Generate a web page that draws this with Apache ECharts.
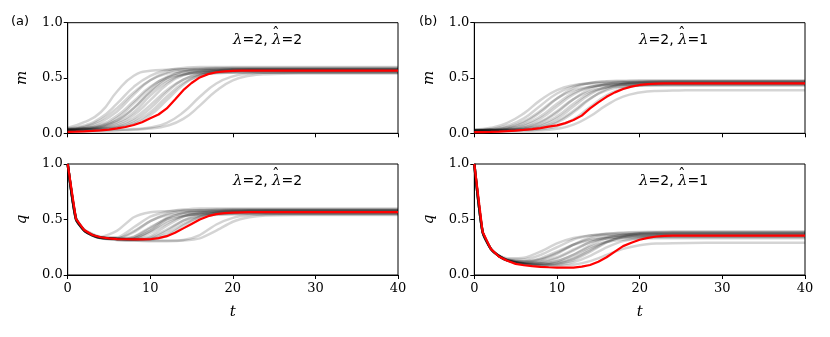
<!DOCTYPE html>
<html>
<head>
<meta charset="utf-8">
<script src="https://cdn.jsdelivr.net/npm/echarts@6/dist/echarts.min.js"></script>
<style>html,body{margin:0;padding:0;background:#fff}#c{width:830px;height:337px}</style>
</head>
<body>
<div id="c"></div>
<script>
// time grids
const tRed = [0,1,2,3,4,5,6,7,8,9,10,11,12,13,14,15,16,17,18,19,20,21,22,23,24,25,40];
const tM = [0,2,4,6,8,10,12,14,16,18,20,22,24,28,40];
const tQ = [0,1,2,3,4,6,8,10,12,14,16,18,20,22,24,28,40];
const xTicks = [0,10,20,30,40];
const yTicks = ['0.0','0.5','1.0'];
const panelLabels = ['(a)','(b)'];
const annotA = ['λ', '=2, ', 'λ', '=2'];
const annotB = ['λ', '=2, ', 'λ', '=1'];

// panel (a) m
const mA_red = [0.013,0.015,0.018,0.022,0.027,0.034,0.044,0.057,0.075,0.1,0.135,0.17,0.225,0.305,0.39,0.455,0.505,0.535,0.552,0.56,0.564,0.566,0.566,0.566,0.566,0.566,0.566];
const mA_gray = [
[0.05,0.10,0.19,0.38,0.52,0.565,0.575,0.58,0.58,0.58,0.58,0.58,0.58,0.58,0.58],
[0.045,0.07,0.14,0.27,0.42,0.52,0.57,0.59,0.60,0.60,0.60,0.60,0.60,0.60,0.60],
[0.04,0.06,0.12,0.23,0.37,0.48,0.54,0.56,0.565,0.57,0.57,0.57,0.57,0.57,0.57],
[0.04,0.055,0.10,0.20,0.35,0.48,0.55,0.58,0.585,0.59,0.59,0.59,0.59,0.59,0.59],
[0.035,0.045,0.08,0.16,0.29,0.42,0.50,0.535,0.545,0.55,0.55,0.55,0.55,0.55,0.55],
[0.035,0.045,0.07,0.14,0.27,0.41,0.51,0.555,0.57,0.575,0.58,0.58,0.58,0.58,0.58],
[0.03,0.04,0.06,0.115,0.225,0.37,0.48,0.53,0.55,0.555,0.56,0.56,0.56,0.56,0.56],
[0.035,0.045,0.065,0.12,0.23,0.38,0.50,0.56,0.58,0.585,0.59,0.59,0.59,0.59,0.59],
[0.03,0.04,0.055,0.10,0.19,0.34,0.46,0.53,0.555,0.565,0.57,0.57,0.57,0.57,0.57],
[0.03,0.035,0.05,0.085,0.165,0.30,0.44,0.525,0.56,0.572,0.578,0.58,0.58,0.58,0.58],
[0.03,0.035,0.045,0.07,0.135,0.255,0.39,0.485,0.53,0.543,0.548,0.55,0.55,0.55,0.55],
[0.03,0.034,0.042,0.06,0.115,0.225,0.37,0.485,0.54,0.56,0.565,0.57,0.57,0.57,0.57],
[0.03,0.033,0.04,0.053,0.097,0.19,0.33,0.455,0.52,0.548,0.555,0.56,0.56,0.56,0.56],
[0.03,0.032,0.036,0.048,0.083,0.165,0.30,0.44,0.525,0.562,0.574,0.578,0.58,0.58,0.58],
[0.02,0.022,0.025,0.03,0.038,0.052,0.095,0.19,0.33,0.45,0.515,0.54,0.548,0.55,0.55],
[0.02,0.022,0.025,0.028,0.033,0.043,0.068,0.13,0.25,0.385,0.478,0.52,0.535,0.54,0.54]
];

// panel (a) q
const qA_red = [1.0,0.505,0.405,0.36,0.34,0.33,0.324,0.322,0.321,0.321,0.322,0.332,0.35,0.38,0.42,0.46,0.50,0.53,0.548,0.557,0.562,0.565,0.566,0.566,0.566,0.566,0.566];
const qA_gray = [
[1,0.52,0.41,0.37,0.345,0.40,0.52,0.565,0.575,0.58,0.58,0.58,0.58,0.58,0.58,0.58,0.58],
[1,0.51,0.405,0.365,0.34,0.34,0.43,0.525,0.57,0.59,0.6,0.6,0.6,0.6,0.6,0.6,0.6],
[1,0.51,0.40,0.36,0.34,0.33,0.395,0.485,0.54,0.56,0.565,0.57,0.57,0.57,0.57,0.57,0.57],
[1,0.5,0.40,0.36,0.335,0.33,0.385,0.485,0.55,0.58,0.585,0.59,0.59,0.59,0.59,0.59,0.59],
[1,0.51,0.405,0.36,0.335,0.325,0.345,0.43,0.505,0.535,0.545,0.55,0.55,0.55,0.55,0.55,0.55],
[1,0.5,0.40,0.355,0.335,0.325,0.34,0.42,0.515,0.555,0.57,0.575,0.58,0.58,0.58,0.58,0.58],
[1,0.51,0.40,0.36,0.335,0.325,0.33,0.395,0.485,0.53,0.55,0.555,0.56,0.56,0.56,0.56,0.56],
[1,0.5,0.40,0.355,0.335,0.325,0.33,0.40,0.505,0.56,0.58,0.585,0.59,0.59,0.59,0.59,0.59],
[1,0.51,0.405,0.36,0.34,0.325,0.325,0.38,0.465,0.53,0.555,0.565,0.57,0.57,0.57,0.57,0.57],
[1,0.5,0.40,0.36,0.335,0.325,0.32,0.35,0.445,0.525,0.56,0.572,0.578,0.58,0.58,0.58,0.58],
[1,0.51,0.405,0.36,0.335,0.325,0.32,0.335,0.41,0.49,0.53,0.543,0.548,0.55,0.55,0.55,0.55],
[1,0.5,0.40,0.355,0.335,0.325,0.32,0.33,0.395,0.49,0.54,0.56,0.565,0.57,0.57,0.57,0.57],
[1,0.51,0.40,0.36,0.335,0.325,0.32,0.325,0.37,0.46,0.52,0.548,0.555,0.56,0.56,0.56,0.56],
[1,0.5,0.40,0.36,0.335,0.325,0.32,0.32,0.35,0.445,0.525,0.562,0.574,0.578,0.58,0.58,0.58],
[1,0.5,0.40,0.355,0.33,0.315,0.31,0.31,0.31,0.315,0.36,0.455,0.515,0.54,0.548,0.55,0.55],
[1,0.51,0.40,0.355,0.33,0.315,0.31,0.305,0.305,0.31,0.33,0.40,0.48,0.52,0.535,0.54,0.54]
];

// panel (b) m
const mB_red = [0.01,0.011,0.013,0.016,0.02,0.025,0.031,0.038,0.047,0.06,0.072,0.092,0.12,0.16,0.225,0.28,0.33,0.37,0.40,0.422,0.437,0.445,0.449,0.451,0.452,0.452,0.452];
const mB_gray = [
[0.035,0.05,0.095,0.18,0.30,0.39,0.435,0.45,0.455,0.46,0.46,0.46,0.46,0.46,0.46],
[0.03,0.04,0.07,0.135,0.25,0.36,0.425,0.455,0.465,0.47,0.47,0.47,0.47,0.47,0.47],
[0.029,0.036,0.057,0.107,0.204,0.315,0.388,0.421,0.434,0.44,0.44,0.44,0.44,0.44,0.44],
[0.028,0.034,0.051,0.097,0.19,0.314,0.408,0.454,0.471,0.476,0.48,0.48,0.48,0.48,0.48],
[0.027,0.031,0.044,0.078,0.153,0.267,0.366,0.418,0.439,0.446,0.45,0.45,0.45,0.45,0.45],
[0.027,0.03,0.04,0.068,0.133,0.243,0.352,0.417,0.445,0.455,0.46,0.46,0.46,0.46,0.46],
[0.026,0.029,0.036,0.056,0.105,0.20,0.309,0.379,0.412,0.424,0.43,0.43,0.43,0.43,0.43],
[0.026,0.028,0.034,0.051,0.096,0.187,0.308,0.399,0.444,0.461,0.466,0.47,0.47,0.47,0.47],
[0.025,0.027,0.031,0.044,0.078,0.153,0.267,0.366,0.418,0.439,0.446,0.45,0.45,0.45,0.45],
[0.025,0.027,0.03,0.04,0.068,0.133,0.243,0.352,0.417,0.445,0.455,0.46,0.46,0.46,0.46],
[0.025,0.026,0.029,0.036,0.057,0.107,0.204,0.315,0.388,0.421,0.434,0.44,0.44,0.44,0.44],
[0.025,0.026,0.028,0.034,0.051,0.097,0.19,0.31,0.40,0.446,0.462,0.467,0.47,0.47,0.47],
[0.02,0.022,0.024,0.027,0.037,0.064,0.126,0.237,0.343,0.405,0.433,0.442,0.447,0.45,0.45],
[0.02,0.021,0.022,0.025,0.027,0.041,0.078,0.154,0.255,0.331,0.368,0.383,0.386,0.39,0.39]
];

// panel (b) q
const qB_red = [1.0,0.39,0.235,0.165,0.128,0.1,0.088,0.08,0.074,0.07,0.067,0.066,0.067,0.075,0.09,0.12,0.16,0.21,0.26,0.29,0.318,0.335,0.347,0.352,0.354,0.354,0.354];
const qB_gray = [
[1,0.39,0.24,0.175,0.15,0.155,0.21,0.285,0.333,0.357,0.363,0.367,0.37,0.37,0.37,0.37,0.37],
[1,0.39,0.235,0.17,0.14,0.14,0.18,0.25,0.32,0.355,0.372,0.377,0.38,0.38,0.38,0.38,0.38],
[1,0.39,0.235,0.17,0.14,0.125,0.15,0.21,0.273,0.314,0.331,0.337,0.34,0.34,0.34,0.34,0.34],
[1,0.39,0.235,0.17,0.135,0.12,0.135,0.19,0.274,0.339,0.371,0.384,0.388,0.39,0.39,0.39,0.39],
[1,0.39,0.235,0.17,0.134,0.113,0.12,0.16,0.23,0.295,0.329,0.343,0.347,0.35,0.35,0.35,0.35],
[1,0.39,0.235,0.17,0.134,0.11,0.114,0.15,0.22,0.296,0.341,0.36,0.366,0.37,0.37,0.37,0.37],
[1,0.39,0.235,0.17,0.132,0.107,0.105,0.126,0.182,0.252,0.298,0.318,0.326,0.33,0.33,0.33,0.33],
[1,0.39,0.235,0.17,0.131,0.106,0.103,0.124,0.183,0.267,0.331,0.362,0.374,0.378,0.38,0.38,0.38],
[1,0.39,0.235,0.17,0.13,0.102,0.098,0.111,0.157,0.235,0.303,0.338,0.352,0.357,0.36,0.36,0.36],
[1,0.39,0.235,0.17,0.13,0.1,0.095,0.104,0.144,0.22,0.296,0.341,0.36,0.366,0.37,0.37,0.37],
[1,0.39,0.235,0.17,0.13,0.1,0.088,0.091,0.115,0.172,0.248,0.305,0.334,0.344,0.348,0.35,0.35],
[1,0.39,0.235,0.17,0.13,0.1,0.085,0.082,0.092,0.125,0.18,0.235,0.268,0.283,0.287,0.29,0.29],
[1,0.39,0.235,0.17,0.13,0.1,0.093,0.1,0.133,0.208,0.294,0.35,0.376,0.385,0.39,0.39,0.39],
[1,0.39,0.235,0.17,0.138,0.122,0.142,0.2,0.273,0.324,0.347,0.356,0.36,0.36,0.36,0.36,0.36]
];

const SERIF = 'DejaVu Serif';
const grids = [
  {left: 67.7, width: 330.3, top: 22.7, height: 110.6},
  {left: 474.3, width: 330.7, top: 22.7, height: 110.6},
  {left: 67.7, width: 330.3, top: 164, height: 111},
  {left: 474.3, width: 330.7, top: 164, height: 111}
].map(g => Object.assign(g, {show: true, borderColor: '#000', borderWidth: 1, backgroundColor: 'transparent', containLabel: false}));

const yNames = ['m','m','q','q'];
const xAxes = grids.map((g, i) => ({
  type: 'value', gridIndex: i, min: 0, max: 40, interval: 10,
  axisLine: {show: true, onZero: false, lineStyle: {color: '#000', width: 1}},
  axisTick: {show: true, length: 4, lineStyle: {color: '#000'}},
  splitLine: {show: false},
  axisLabel: {show: i >= 2, color: '#000', fontFamily: SERIF, fontSize: 13, margin: 7},
  name: i >= 2 ? 't' : '', nameLocation: 'middle', nameGap: 30,
  nameTextStyle: {fontFamily: SERIF, fontStyle: 'italic', fontSize: 15, color: '#000'}
}));
const yAxes = grids.map((g, i) => ({
  type: 'value', gridIndex: i, min: 0, max: 1, interval: 0.5,
  axisLine: {show: true, onZero: false, lineStyle: {color: '#000', width: 1}},
  axisTick: {show: true, length: 4, lineStyle: {color: '#000'}},
  splitLine: {show: false},
  axisLabel: {color: '#000', fontFamily: SERIF, fontSize: 13, margin: 5, formatter: v => yTicks[Math.round(v * 2)]},
  name: yNames[i], nameLocation: 'middle', nameGap: 38, nameRotate: 90,
  nameTextStyle: {fontFamily: SERIF, fontStyle: 'italic', fontSize: 15, color: '#000'}
}));

const series = [];
function addPanel(idx, tg, grays, red, sm) {
  grays.forEach(arr => series.push({
    type: 'line', xAxisIndex: idx, yAxisIndex: idx, data: tg.map((t, k) => [t, arr[k]]),
    showSymbol: false, smooth: sm, silent: true,
    lineStyle: {color: 'rgba(0,0,0,0.17)', width: 2.5}, z: 2
  }));
  series.push({
    type: 'line', xAxisIndex: idx, yAxisIndex: idx, data: tRed.map((t, k) => [t, red[k]]),
    showSymbol: false, smooth: false, silent: true,
    lineStyle: {color: '#ff0000', width: 2.2}, z: 3
  });
}
addPanel(0, tM, mA_gray, mA_red, 0.5);
addPanel(1, tM, mB_gray, mB_red, 0.5);
addPanel(2, tQ, qA_gray, qA_red, 0.2);
addPanel(3, tQ, qB_gray, qB_red, 0.2);

// annotation: λ=2, λ̂=v  (hat drawn as a separate glyph over the second λ)
function annot(parts, x, y) {
  const txt = '{i|' + parts[0] + '}' + parts[1] + '{i|' + parts[2] + '}' + parts[3];
  return [
    {type: 'text', left: x, top: y, silent: true, z: 10,
     style: {text: txt, rich: {i: {fontFamily: SERIF, fontStyle: 'italic', fontSize: 15, fill: '#000'}},
             fontFamily: 'DejaVu Sans', fontSize: 14, fill: '#000'}},
    {type: 'text', left: x + 39, top: y - 6, silent: true, z: 10,
     style: {text: 'ˆ', fontFamily: SERIF, fontSize: 15, fill: '#000'}}
  ];
}

const chart = echarts.init(document.getElementById('c'), null, {renderer: 'canvas'});
chart.setOption({
  animation: false,
  grid: grids, xAxis: xAxes, yAxis: yAxes, series,
  graphic: [
    {type: 'text', left: 11, top: 15, style: {text: panelLabels[0], fontFamily: 'DejaVu Sans', fontSize: 13, fill: '#000'}},
    {type: 'text', left: 419, top: 15, style: {text: panelLabels[1], fontFamily: 'DejaVu Sans', fontSize: 13, fill: '#000'}}
  ].concat(annot(annotA, 233, 33), annot(annotB, 639, 33), annot(annotA, 233, 174), annot(annotB, 639, 174))
});
</script>
</body>
</html>
